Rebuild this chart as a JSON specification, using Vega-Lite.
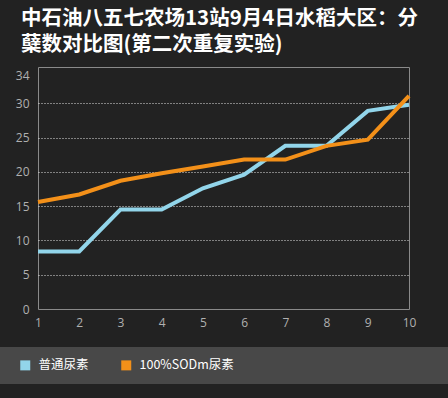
{
  "$schema": "https://vega.github.io/schema/vega-lite/v6.json",
  "width": 371,
  "height": 242,
  "autosize": {"type": "none"},
  "padding": {"left": 38, "top": 67, "right": 39, "bottom": 89},
  "background": "#222222",
  "title": {
    "text": ["中石油八五七农场13站9月4日水稻大区：分", "蘖数对比图(第二次重复实验)"],
    "anchor": "start",
    "frame": "group",
    "font": "Noto Sans CJK SC",
    "fontSize": 20.5,
    "fontWeight": "bold",
    "color": "#ffffff",
    "lineHeight": 26,
    "dx": -17,
    "offset": 12
  },
  "config": {
    "view": {"stroke": "#8a8a8a", "strokeWidth": 1},
    "axis": {
      "labelColor": "#b0b0b0",
      "labelFont": "Open Sans",
      "labelFontSize": 12,
      "ticks": false,
      "domain": false,
      "title": null
    }
  },
  "data": {
    "values": [
      {"x": 1, "series": "普通尿素", "y": 8.4},
      {"x": 2, "series": "普通尿素", "y": 8.4},
      {"x": 3, "series": "普通尿素", "y": 14.5},
      {"x": 4, "series": "普通尿素", "y": 14.5},
      {"x": 5, "series": "普通尿素", "y": 17.6},
      {"x": 6, "series": "普通尿素", "y": 19.6},
      {"x": 7, "series": "普通尿素", "y": 23.8},
      {"x": 8, "series": "普通尿素", "y": 23.8},
      {"x": 9, "series": "普通尿素", "y": 28.9},
      {"x": 10, "series": "普通尿素", "y": 29.8},
      {"x": 1, "series": "100%SODm尿素", "y": 15.6},
      {"x": 2, "series": "100%SODm尿素", "y": 16.7},
      {"x": 3, "series": "100%SODm尿素", "y": 18.7},
      {"x": 4, "series": "100%SODm尿素", "y": 19.8},
      {"x": 5, "series": "100%SODm尿素", "y": 20.8},
      {"x": 6, "series": "100%SODm尿素", "y": 21.8},
      {"x": 7, "series": "100%SODm尿素", "y": 21.8},
      {"x": 8, "series": "100%SODm尿素", "y": 23.8},
      {"x": 9, "series": "100%SODm尿素", "y": 24.7},
      {"x": 10, "series": "100%SODm尿素", "y": 31.1}
    ]
  },
  "mark": {"type": "line", "strokeWidth": 4, "strokeJoin": "miter", "clip": false},
  "encoding": {
    "x": {
      "field": "x",
      "type": "quantitative",
      "scale": {"domain": [1, 10], "nice": false, "zero": false},
      "axis": {"values": [1, 2, 3, 4, 5, 6, 7, 8, 9, 10], "format": "d", "grid": false, "labelPadding": 8, "labelFlush": false}
    },
    "y": {
      "field": "y",
      "type": "quantitative",
      "scale": {"domain": [0, 35.3], "nice": false},
      "axis": {
        "values": [0, 5, 10, 15, 20, 25, 30, 34],
        "grid": true,
        "gridColor": "#e0e0e0",
        "gridDash": [1, 2],
        "gridWidth": 1,
        "gridOpacity": {"condition": {"test": "datum.value == 34 || datum.value == 0", "value": 0}, "value": 1},
        "labelPadding": 9,
        "labelFlush": false
      }
    },
    "color": {
      "field": "series",
      "type": "nominal",
      "scale": {"domain": ["普通尿素", "100%SODm尿素"], "range": ["#92d5ea", "#f39019"]},
      "legend": {
        "title": ".",
        "titleOrient": "right",
        "titleColor": "#484848",
        "titleFontSize": 8,
        "titlePadding": 200,
        "orient": "none",
        "legendX": -38,
        "legendY": 280,
        "direction": "horizontal",
        "fillColor": "#484848",
        "padding": 12,
        "symbolOffset": 7,
        "symbolType": "square",
        "symbolSize": 100,
        "symbolStrokeWidth": 0,
        "labelColor": "#ffffff",
        "labelFont": "Noto Sans CJK SC",
        "labelFontSize": 12.5,
        "labelOffset": 7,
        "columnPadding": 24,
        "encode": {"symbols": {"update": {"fill": {"scale": "color", "field": "value"}, "fillOpacity": {"value": 1}}}}
      }
    }
  }
}
